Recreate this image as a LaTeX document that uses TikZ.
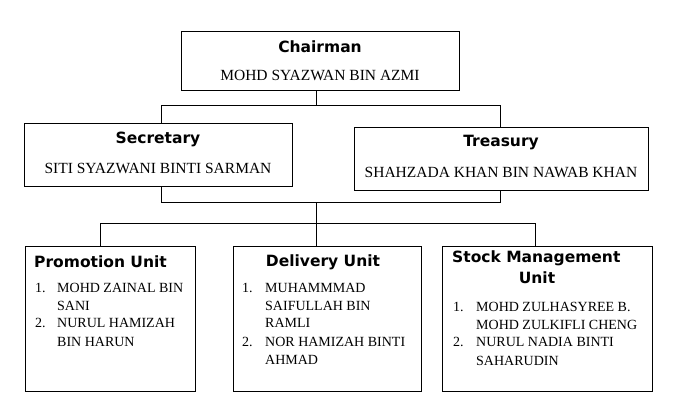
\documentclass[tikz,border=0pt]{standalone}
\usepackage{fontspec}
\setmainfont{Liberation Serif}
\newfontfamily\ttl{DejaVu Sans}
\begin{document}
\begin{tikzpicture}[x=1pt,y=-1pt,
 box/.style={draw,line width=0.9pt},
 ttext/.style={font=\ttl\bfseries\fontsize{15.5}{18}\selectfont,inner sep=0},
 ntext/.style={font=\fontsize{15.5}{18}\selectfont,inner sep=0},
 ltext/.style={font=\fontsize{14}{16}\selectfont,inner sep=0,anchor=west},
 conn/.style={line width=0.8pt}]
\useasboundingbox (0,0) rectangle (674,415);
% boxes
\node[box,minimum width=278,minimum height=59,anchor=north west] (ch) at (181,31) {};
\node[box,minimum width=268,minimum height=63,anchor=north west] (se) at (24,123) {};
\node[box,minimum width=294,minimum height=63,anchor=north west] (tr) at (354,127) {};
\node[box,minimum width=170,minimum height=145,anchor=north west] (pu) at (25,246) {};
\node[box,minimum width=188,minimum height=145,anchor=north west] (du) at (233,246) {};
\node[box,minimum width=210,minimum height=145,anchor=north west] (su) at (442,246) {};
% texts
\node[ttext] (cht) at (320,47) {Chairman};
\node[ntext] (chn) at (320,75) {MOHD SYAZWAN BIN AZMI};
\node[ttext] (set) at (158,139) {Secretary};
\node[ntext] (sen) at (158,168) {SITI SYAZWANI BINTI SARMAN};
\node[ttext] (trt) at (501,143) {Treasury};
\node[ntext] (trn) at (501,172) {SHAHZADA KHAN BIN NAWAB KHAN};
\node[ttext,anchor=west] (put) at (34,262) {Promotion Unit};
\node[ttext] (dut) at (323,262) {Delivery Unit};
\node[ttext,anchor=west] (sut1) at (452,258) {Stock Management};
\node[ttext] (sut2) at (537,278) {Unit};
% lists
\node[ltext] (p1) at (35,288) {1.};
\node[ltext] (p1a) at (57,288) {MOHD ZAINAL BIN};
\node[ltext] (p1b) at (57,306) {SANI};
\node[ltext] (p2) at (35,323) {2.};
\node[ltext] (p2a) at (57,323) {NURUL HAMIZAH};
\node[ltext] (p2b) at (57,342) {BIN HARUN};
\node[ltext] (d1) at (242,288) {1.};
\node[ltext] (d1a) at (265,288) {MUHAMMMAD};
\node[ltext] (d1b) at (265,306) {SAIFULLAH BIN};
\node[ltext] (d1c) at (265,323) {RAMLI};
\node[ltext] (d2) at (242,342) {2.};
\node[ltext] (d2a) at (265,342) {NOR HAMIZAH BINTI};
\node[ltext] (d2b) at (265,360) {AHMAD};
\node[ltext] (s1) at (453,307) {1.};
\node[ltext] (s1a) at (476,307) {MOHD ZULHASYREE B.};
\node[ltext] (s1b) at (476,325) {MOHD ZULKIFLI CHENG};
\node[ltext] (s2) at (453,342) {2.};
\node[ltext] (s2a) at (476,342) {NURUL NADIA BINTI};
\node[ltext] (s2b) at (476,361) {SAHARUDIN};
% connectors
\coordinate (j1) at (316,105);
\coordinate (j2) at (316,202);
\coordinate (j3) at (316,223);
\draw[conn] (ch.south -| j1) -- (j1);
\draw[conn] (161,123 |- se.north) -- (161,105) -- (500,105) -- (500,127 |- tr.north);
\draw[conn] (161,186 |- se.south) -- (161,202) -- (500,202) -- (500,190 |- tr.south);
\draw[conn] (j2) -- (du.north -| j3);
\draw[conn] (100,246 |- pu.north) -- (100,223) -- (535,223) -- (535,246 |- su.north);
\end{tikzpicture}
\end{document}
